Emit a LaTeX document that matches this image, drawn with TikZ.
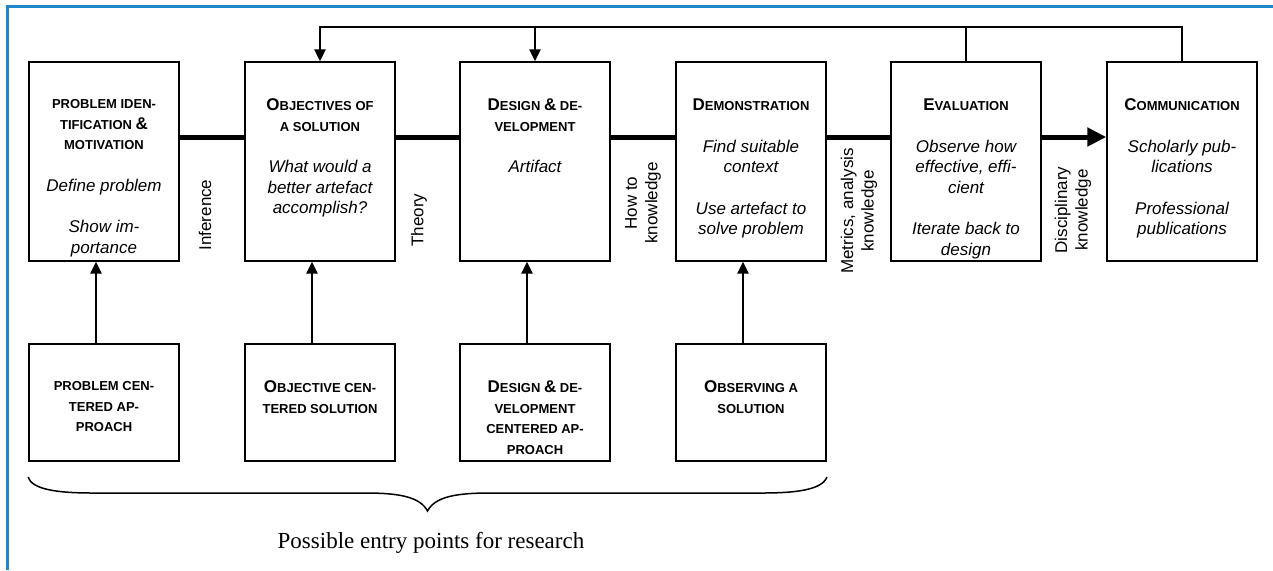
\documentclass[tikz,border=0pt]{standalone}
\usepackage{fontspec}
\setmainfont{Liberation Serif}
\setsansfont{Liberation Sans}
\usepackage{tikz}
\usetikzlibrary{positioning, arrows.meta}
\definecolor{framecol}{RGB}{30, 136, 202}
\newcommand{\ttl}[1]{{\upshape\bfseries\fontsize{13}{20.5}\selectfont #1}}
\newcommand{\cp}[1]{{\fontsize{17}{20.5}\selectfont #1}}

\begin{document}
\begin{tikzpicture}[x=1pt, y=-1pt,
  stage/.style={draw, line width=1.4pt, fill=white, minimum width=150pt, minimum height=199pt, inner sep=0pt},
  entrybox/.style={stage, minimum height=117pt},
  boxtext/.style={align=center, inner sep=0pt, font=\sffamily\itshape\fontsize{17}{20.5}\selectfont},
  sidelabel/.style={rotate=90, align=center, inner sep=0pt, font=\sffamily\fontsize{17}{20.5}\selectfont},
  mainline/.style={line width=5pt},
  feedback/.style={line width=2.5pt},
  fbarrow/.style={-{Triangle[length=12pt, width=11pt]}}
]

  \useasboundingbox (0,0) rectangle (1273,570);
  \draw[framecol, line width=3pt] (7,570) -- (7,6) -- (1273,6);

  % activities
  \node[stage] (s1) at (104,161.5) {};
  \node[stage] (s2) at (320,161.5) {};
  \node[stage] (s3) at (535,161.5) {};
  \node[stage] (s4) at (751,161.5) {};
  \node[stage] (s5) at (966,161.5) {};
  \node[stage] (s6) at (1182,161.5) {};

  \node[boxtext, below=38pt of s1.north] (s1t)
    {\ttl{PROBLEM IDEN-}\\ \ttl{TIFICATION \cp{\&}}\\ \ttl{MOTIVATION}\\[21pt]
     Define problem\\[21pt] Show im-\\ portance};
  \node[boxtext, below=37.5pt of s2.north] (s2t)
    {\ttl{\cp{O}BJECTIVES OF}\\ \ttl{A SOLUTION}\\[21pt]
     What would a\\ better artefact\\ accomplish?};
  \node[boxtext, below=37.5pt of s3.north] (s3t)
    {\ttl{\cp{D}ESIGN \cp{\&} DE-}\\ \ttl{VELOPMENT}\\[21pt] Artifact};
  \node[boxtext, below=37.5pt of s4.north] (s4t)
    {\ttl{\cp{D}EMONSTRATION}\\[21pt] Find suitable\\ context\\[21pt]
     Use artefact to\\ solve problem};
  \node[boxtext, below=37.5pt of s5.north] (s5t)
    {\ttl{\cp{E}VALUATION}\\[21pt] Observe how\\ effective, effi-\\ cient\\[21pt]
     Iterate back to\\ design};
  \node[boxtext, below=37.5pt of s6.north] (s6t)
    {\ttl{\cp{C}OMMUNICATION}\\[21pt] Scholarly pub-\\ lications\\[21pt]
     Professional\\ publications};

  % entry points
  \node[entrybox] (b1) at (104,402.5) {};
  \node[entrybox] (b2) at (320,402.5) {};
  \node[entrybox] (b3) at (535,402.5) {};
  \node[entrybox] (b4) at (751,402.5) {};

  \node[boxtext, below=38pt of b1.north] (b1t)
    {\ttl{PROBLEM CEN-}\\ \ttl{TERED AP-}\\ \ttl{PROACH}};
  \node[boxtext, below=37.5pt of b2.north] (b2t)
    {\ttl{\cp{O}BJECTIVE CEN-}\\ \ttl{TERED SOLUTION}};
  \node[boxtext, below=37.5pt of b3.north] (b3t)
    {\ttl{\cp{D}ESIGN \cp{\&} DE-}\\ \ttl{VELOPMENT}\\ \ttl{CENTERED AP-}\\ \ttl{PROACH}};
  \node[boxtext, below=37.5pt of b4.north] (b4t)
    {\ttl{\cp{O}BSERVING A}\\ \ttl{SOLUTION}};

  \foreach \i in {1,...,4}
    \draw[feedback, fbarrow] ([xshift=-8pt]b\i.north) -- ([xshift=-8pt]s\i.south);

  % process line
  \coordinate (ax) at (0,137);
  \foreach \a/\b in {s1/s2, s2/s3, s3/s4, s4/s5}
    \draw[mainline] (\a.east |- ax) -- (\b.west |- ax);
  \draw[mainline, -{Triangle[length=19pt, width=18pt]}] (s5.east |- ax) -- (s6.west |- ax);

  \node[sidelabel] (l1) at (205,215) {Inference};
  \node[sidelabel] (l2) at (419,220) {Theory};
  \node[sidelabel] (l3) at (643,203) {How to\\knowledge};
  \node[sidelabel] (l4) at (859,211) {Metrics, analysis\\knowledge};
  \node[sidelabel] (l5) at (1073,210) {Disciplinary\\knowledge};

  % iteration
  \coordinate (fb) at (0,27);
  \draw[feedback, fbarrow] (s6.north) -- (s6.north |- fb) -| (s2.north);
  \draw[feedback] (s5.north) -- (s5.north |- fb);
  \draw[feedback, fbarrow] (s3.north |- fb) -- (s3.north);

  % brace
  \draw[line width=1.5pt] (28,477) .. controls (32,490) and (60,493) .. (92,493)
    -- (365,493) .. controls (400,493) and (420,497) .. (427.5,511)
    .. controls (435,497) and (455,493) .. (490,493)
    -- (763,493) .. controls (795,493) and (822,490) .. (827,477);
  \node[font=\fontsize{23}{27}\selectfont] (research) at (431,543) {Possible entry points for research};

\end{tikzpicture}
\end{document}
